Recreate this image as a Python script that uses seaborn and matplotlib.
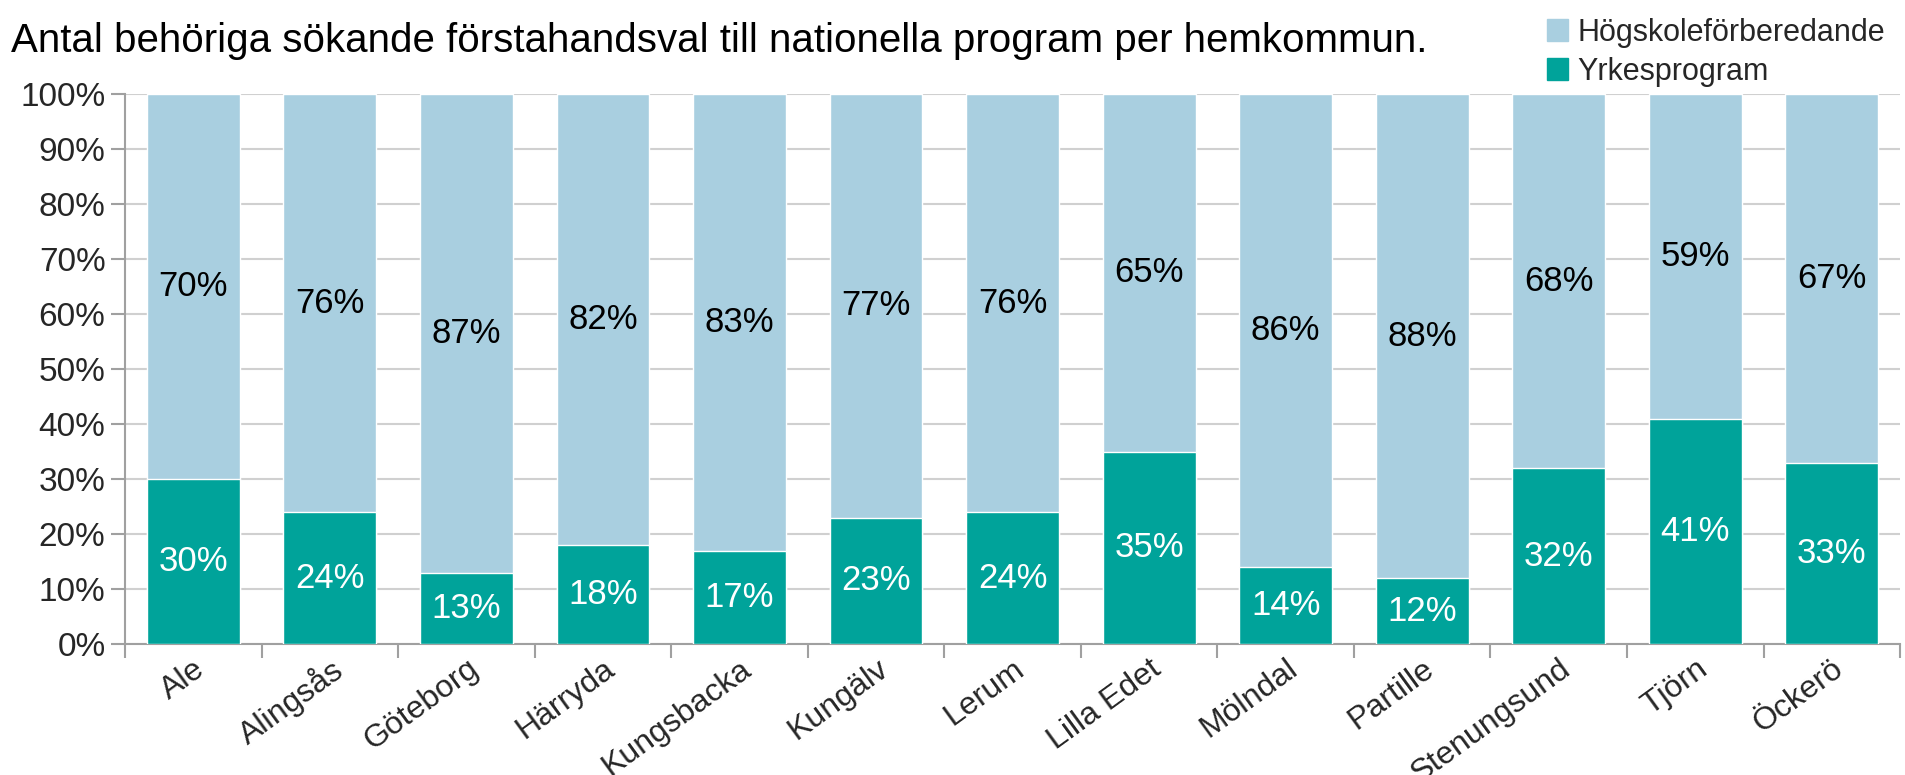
import matplotlib
matplotlib.use("Agg")
import matplotlib.pyplot as plt
from matplotlib.patches import Patch
import seaborn as sns
import pandas as pd
import numpy as np

kommuner = ["Ale", "Alingsås", "Göteborg", "Härryda", "Kungsbacka", "Kungälv", "Lerum",
            "Lilla Edet", "Mölndal", "Partille", "Stenungsund", "Tjörn", "Öckerö"]
yrkes = [30, 24, 13, 18, 17, 23, 24, 35, 14, 12, 32, 41, 33]
hogsk = [70, 76, 87, 82, 83, 77, 76, 65, 86, 88, 68, 59, 67]
yticks = [0, 10, 20, 30, 40, 50, 60, 70, 80, 90, 100]

sns.set_theme(style="white")
plt.rcParams["font.family"] = ["Liberation Sans", "DejaVu Sans"]

C_H = "#A9CFE0"
C_Y = "#00A39A"

df = pd.DataFrame({"kommun": kommuner, "yrke": yrkes, "hogsk": hogsk})
df["total"] = df["yrke"] + df["hogsk"]

fig = plt.figure(figsize=(19.06, 7.75), dpi=100)
ax = fig.add_axes([0.0656, 0.169, 0.9313, 0.7097])

sns.barplot(data=df, x="kommun", y="total", color=C_H, width=0.68, saturation=1, ax=ax, zorder=2)
sns.barplot(data=df, x="kommun", y="yrke", color=C_Y, width=0.68, saturation=1, ax=ax, zorder=3)

for i, (y, h) in enumerate(zip(yrkes, hogsk)):
    ax.text(i, y / 2, f"{y}%", ha="center", va="center", color="white", fontsize=25, zorder=4)
    ax.text(i, y + h / 2, f"{h}%", ha="center", va="center", color="black", fontsize=25, zorder=4)

ax.set_ylim(0, 100)
ax.set_xlim(-0.5, len(kommuner) - 0.5)
ax.set_yticks(yticks)
ax.set_yticklabels([f"{t}%" for t in yticks], fontsize=24)
ax.set_xlabel("")
ax.set_ylabel("")
ax.yaxis.grid(True, color="#D0D0D0", linewidth=1.5, zorder=0)
ax.set_axisbelow(True)
ax.tick_params(axis="y", length=10, width=1.5, color="#A0A0A0", left=True, pad=4)
ax.set_xticks(range(len(kommuner)))
ax.set_xticklabels(kommuner, rotation=36, ha="right", rotation_mode="anchor", fontsize=23)
ax.tick_params(axis="x", which="major", length=0, pad=7)
ax.set_xticks(np.arange(-0.5, len(kommuner), 1), minor=True)
ax.tick_params(axis="x", which="minor", length=10, width=1.5, color="#A0A0A0", bottom=True)
for s in ["top", "right"]:
    ax.spines[s].set_visible(False)
for s in ["left", "bottom"]:
    ax.spines[s].set_color("#A0A0A0")
    ax.spines[s].set_linewidth(1.5)

fig.text(0.006, 0.947, "Antal behöriga sökande förstahandsval till nationella program per hemkommun.",
         fontsize=29, va="center", ha="left", color="black")

handles = [Patch(color=C_H, label="Högskoleförberedande"), Patch(color=C_Y, label="Yrkesprogram")]
fig.legend(handles=handles, loc="upper left", bbox_to_anchor=(0.805, 0.993), frameon=False,
           fontsize=22, handlelength=0.7, handleheight=0.7, handletextpad=0.3, labelspacing=0.3,
           borderaxespad=0)

fig.savefig("out.png", dpi=100)
